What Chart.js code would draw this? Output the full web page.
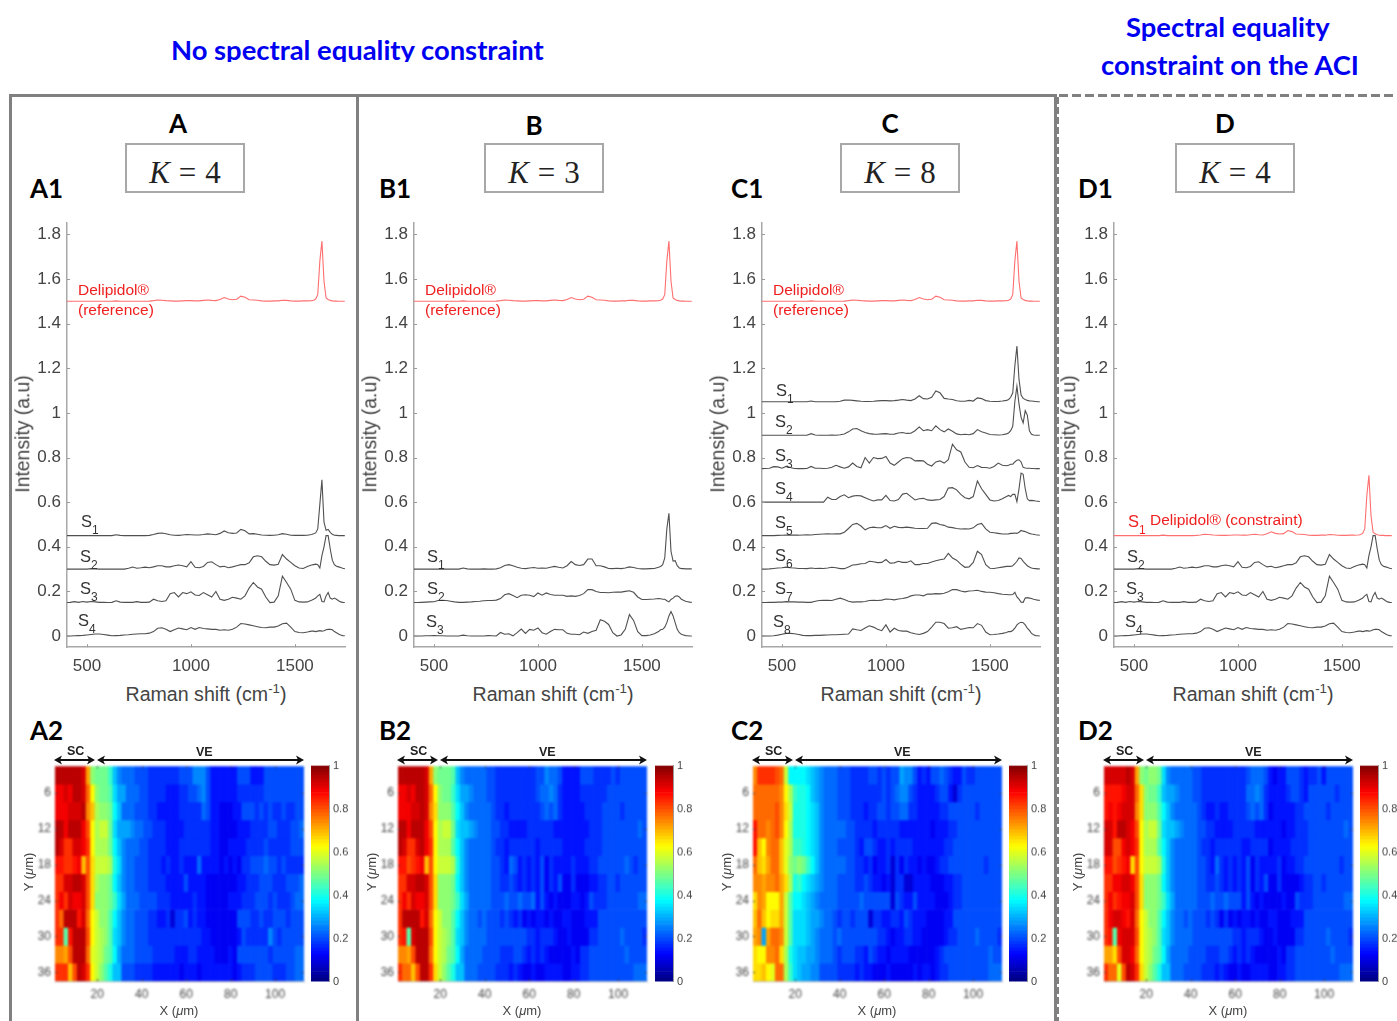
<!DOCTYPE html>
<html>
<head>
<meta charset="utf-8">
<title>Raman spectra and maps</title>
<script src="https://cdn.jsdelivr.net/npm/chart.js@4"></script>
<style>
html, body { margin: 0; padding: 0; background: #fff; }
#page { position: relative; width: 1397px; height: 1021px; overflow: hidden; background: #fff; }
#page canvas { position: absolute; filter: blur(0.45px); }
#page canvas.map { filter: blur(0.85px); }
.t { position: absolute; white-space: nowrap; font-family: "Liberation Sans", Arial, sans-serif; color: #444; line-height: 1; }
.head { font-family: Lato, sans-serif; font-weight: 700; color: #0000f0; font-size: 27.4px; }
.big { font-family: Lato, sans-serif; font-weight: 700; color: #000; font-size: 26px; }
.line { position: absolute; background: #808080; }
.kbox { position: absolute; border: 2px solid #a8a8a8; box-sizing: border-box; text-align: center; font-family: "Liberation Serif", serif; font-size: 31px; line-height: 55px; height: 50px; width: 120px; color: #222; }
sub, sup { font-size: 68%; line-height: 0; }
</style>
</head>
<body>
<div id="page"></div>
<script>
// Raman shift grid (cm-1)
const shift = [400,420,440,460,480,500,520,540,560,580,600,620,640,660,680,700,720,740,760,780,
800,820,840,860,880,900,920,940,960,980,1000,1020,1040,1060,1080,1100,1120,1140,1160,1180,
1200,1220,1240,1260,1280,1300,1320,1340,1360,1380,1400,1420,1440,1460,1480,1500,1520,1540,1560,1580,
1590,1600,1610,1620,1630,1640,1650,1660,1670,1680,1690,1700,1710,1720,1730,1740];

// Spectra, height above each baseline, in 0.01 intensity units
const delipidol = [0,0,0,0,0,0,0,0,0,0,
0,0,.2,0,0,0,0,0,0,0,
.1,.3,.6,.5,.3,.2,.1,.1,.2,.3,
.3,.2,.2,.4,.6,.4,.3,.8,1.7,1,
.7,.9,2.3,1.8,.7,.6,.5,.2,.1,.1,
.2,.2,.5,.4,.2,.1,.1,.2,.2,.3,
.5,1,3,18,27,9,1.5,.8,.4,.2,.1,.1,0,0,0,0];
const aS1 = [0,0,0,0,0,0,0,0,0,0,
0,0,.4,.1,0,0,0,0,0,0,
.1,.5,1,1.2,.8,.4,.2,.1,.3,.5,
.4,.3,.3,.5,.8,.6,.4,1,2.1,1.3,
1,1.2,2.8,2.2,.8,.9,.6,.3,.2,.1,
.2,.4,.9,.6,.2,.1,.1,.1,.2,.5,
.8,1.2,3,14,25,6,2.4,2.8,1.5,.6,.2,.1,0,0,0,0];
const aS2 = [0,0,0,0,0,0,.2,.1,0,0,
0,0,0,0,0,.4,.9,.4,.6,.9,
.6,1,1.5,1.5,1,1,1.5,1.8,1.5,1,
3.3,.8,.6,1.2,3,3.3,2,1,1.3,.6,
1,1.5,2,2,2.8,5.5,6,5.5,3.5,2,
1.8,2.2,6.5,4.5,3,1.5,.5,.3,1.2,1.8,
2,2.2,2,.5,6,10,15,15,9,4,2,1.3,1,.7,.4,.2];
const aS3 = [0,.1,.4,.1,.5,.2,.5,.3,.1,.1,
0,.1,.8,.2,.1,.1,.1,.4,.1,.1,
.2,1.5,.8,.5,.8,4,4.5,2.5,4.5,4,
4.8,3.4,3.2,4.5,3.5,2.5,5,1.5,1,1.5,
2.4,2,1.5,3,6.5,9,7,6,2.5,0,
.2,3,11.8,9,6,1,.3,.2,.3,1,
1.5,2,3,3.7,.5,.3,3,4.5,2,1.5,2,1.5,.8,.3,.1,0];
const aS4 = [0,0,.1,.2,.3,.5,.7,.9,.9,.7,
.4,.1,.2,.3,.5,.6,.8,.9,1,1,
1.3,2,3.5,3.7,3,2,2.8,3.6,3.2,2.8,
3.8,3,3.8,3.4,3.2,3,3,2.6,2.8,2.6,
3,4,5.6,5.4,5,4.6,4.2,3.8,3.7,4,
4,4.5,5.5,5.8,4,2,1.6,1.5,1.8,2.2,
2.2,2,2.2,2.4,2.2,2.4,2.8,3,3,2.8,2,1.5,.9,.5,.2,.1];
const bS1 = [0,0,0,0,0,0,0,0,0,0,
0,0,.5,.1,0,0,0,.1,0,0,
.1,.6,1.6,2,1.5,.8,.4,.2,.5,.7,
.4,.5,.4,.8,1.2,.8,.5,1.5,3.4,2,
1.6,2,4.5,4.5,1.5,1.5,1,.3,.2,.4,
.2,.5,1,.7,.3,.1,.1,.2,.3,.8,
1.2,2,5,18,25,8,3.6,3.8,1.5,.5,.2,.2,.1,.1,.1,.1];
const bS2 = [0,0,.1,.2,.3,.4,.9,1,.9,.6,
.3,.1,.1,.2,.3,.5,.6,.8,.9,.9,
1.1,1.8,3.5,4,3.2,2.2,3.3,3.5,3.3,2.7,
4.3,3.3,4.3,3.6,3.3,3.3,3.3,2.8,3,2.8,
3.2,4,5.8,5.8,5,4.5,4.5,4.4,4.6,4.7,
4.7,5,5.3,4.6,2.5,1.4,1.4,1.5,1.6,1.8,
1.7,1.5,1.5,.8,.3,1.4,2,2.8,3,2.5,1.5,1,.6,.4,.2,.1];
const bS3 = [0,0,0,.1,.1,.2,.1,.1,0,0,
0,0,.4,.1,0,0,0,0,.2,.1,
0,1.6,.8,1,.1,1.5,3.1,1.2,3,2.6,
3.6,1.5,.8,2,3,2.8,2.8,1.2,.8,.8,
.6,1.8,1.2,2,2.6,7.3,6.6,5.2,1.5,0,
.5,3,9.6,7,2,.2,.2,.5,1,2,
2.8,3,4,6,9,11,9,6,3,1.5,.8,.5,.2,.1,0,0];
const cS1 = [0,0,0,0,0,0,0,0,0,0,
0,0,.3,0,0,0,0,0,0,.2,
.7,.8,.6,.4,.2,.1,.1,.2,.4,.5,
.5,.4,.5,.7,1,.7,.5,1.2,2.7,1.4,
1.2,2,4.8,4,1.5,1.2,1,.4,.2,.2,
.6,.3,1.7,1.4,.5,.2,.1,.1,.3,.6,
1,2,4,16,25,10,3,1.5,1,.6,.4,.3,.2,.1,0,0];
const cS2 = [0,0,0,0,0,0,0,0,0,0,
0,0,.7,.1,0,0,0,.1,0,.2,
.5,1.5,2.8,3,2,1.2,.7,.5,.4,.6,
.7,.4,.5,1,1.2,.8,.9,2,3.7,2,
2.5,2,4.2,2.5,1.5,2.8,1.8,.6,.2,.4,
.2,.7,2.5,1.5,1,.3,.2,.1,.2,.6,
1,2,4,15,22,14,8,5.5,11,9,2,.4,.1,0,0,0];
const cS3 = [0,.1,.2,.9,.8,.2,1,.5,.1,0,
0,.1,1,.2,.2,.1,.2,.6,1.5,.8,
.2,.8,2.5,1,.4,5,2.5,5,4.5,4.6,
5.5,2.5,1.5,3,4.5,5,4.8,3.5,3.6,3.5,
2,1.2,3,3.5,2.5,4,11,8.5,7.5,3,
.6,.4,1.4,.6,.5,.2,1,2.5,1.5,1.3,
1.5,2,2,3,3.8,4,3,.6,.3,.2,.2,.1,.1,0,0,0];
const cS4 = [0,0,0,0,0,0,0,0,0,0,
0,0,0,0,0,0,2.2,1.2,1.2,2.5,
3.3,2,2.7,3,2.8,2,1.2,.5,1,1,
3,.7,.5,1.2,3.6,4,2.5,1,1.5,1.7,
1,.8,1,1.2,2.5,6.3,6.5,5.5,3.5,2,
1.5,2.5,9.5,6,3.5,1,.5,.7,1.5,2.5,
3,2.5,3.5,3.5,.2,6,13,12.5,6,1.5,.7,.8,.7,.5,.4,.3];
const cS5 = [0,0,0,0,.1,.2,.3,.2,.2,.2,
.3,.4,.3,.5,.6,.7,.8,.7,.8,.8,
1.5,3.2,5,5.5,4.3,2.6,3.5,3.8,3.5,3.6,
4.5,3.3,4.2,3.7,3.6,3.8,3.6,3.3,3.2,3.2,
3.3,5.5,5.7,5,4.6,3.8,3.6,3.2,3,3.1,
3,3.5,5,5.5,3,1.5,1.3,1,.7,.7,
.8,1,1,1.2,1,1.5,2.3,2,1.8,1.4,1,.7,.6,.4,.3,.2];
const cS6 = [0,0,.1,.3,.5,.6,.9,.6,.5,.3,
.3,.2,.5,.3,.4,.3,.5,.8,.6,.2,
.2,.9,1.8,2,2.4,2.5,3.5,3.3,2.9,3,
4.3,2.7,2.8,3.5,3,3,3.7,2,2,2.5,
2.5,3.2,3.7,4.2,4.5,7,5,4,2.2,.8,
1,3,8,6.5,2,.4,.3,.6,.9,1.2,
1.3,1.2,1.5,2.4,3.5,5,4.8,3.5,2.5,1.5,.9,.5,.3,.2,.1,.1];
const cS7 = [0,0,.1,.1,.2,.2,.4,.3,.3,.2,
.2,.1,.1,.6,.9,1,1,.9,1.5,2,
1.4,.6,.2,.3,.3,.5,.9,1,.9,1.1,
1.6,1.5,1.2,1.6,1.8,2.2,3,3.4,3.4,3,
3.8,3.8,4,3.9,4.2,4.8,5.8,5.8,5.2,4.8,
5.2,5.3,5.5,5,4.7,4.6,4.4,4,3.7,3.6,
3.5,3.5,3.6,4.6,2.5,1.5,.2,.1,2,2.2,2,1.8,1.5,1.3,1.1,1];
const cS8 = [0,0,0,.1,.4,.8,1.2,1.2,1,.7,
.3,.2,.2,.3,.3,.4,.5,.6,.6,.7,
.8,.9,3.2,2.8,2.5,3.6,4.6,4,3,2.4,
5,1.8,3.5,2.5,2.2,2.2,1.5,1,.7,1.2,
2,4,6.2,6.2,5.6,3.5,3.7,4.2,3,3.4,
3.8,3.7,5.6,4.8,1.8,.6,.7,.9,1.2,1.6,
2,2,2.5,3.5,5,5.8,6.2,6,5,3.5,2.5,1.2,.6,.2,.1,0];

// Spectrum baselines per panel
const aBase = [1.5, 0.45, 0.3, 0.15, 0];
const bBase = [1.5, 0.3, 0.15, 0];
const cBase = [1.5, 1.05, 0.9, 0.75, 0.6, 0.45, 0.3, 0.15, 0];
const dBase = [0.45, 0.3, 0.15, 0];
const aLines = [delipidol, aS1, aS2, aS3, aS4];
const bLines = [delipidol, bS1, bS2, bS3];
const cLines = [delipidol, cS1, cS2, cS3, cS4, cS5, cS6, cS7, cS8];
const dLines = [delipidol, aS2, aS3, aS4];

// Tick labels
const specXTicks = [500, 1000, 1500];
const specYTicks = [0, 0.2, 0.4, 0.6, 0.8, 1, 1.2, 1.4, 1.6, 1.8];
const mapXTicks = [20, 40, 60, 80, 100];
const mapYTicks = [6, 12, 18, 24, 30, 36];
const barTicks = [0, 0.2, 0.4, 0.6, 0.8, 1];

// Map axes: X every 2 um, Y every 3 um
const mapX = [2,4,6,8,10,12,14,16,18,20,22,24,26,28,30,32,34,36,38,40,42,44,46,48,50,52,54,56,58,60,62,64,66,68,70,72,74,76,78,80,82,84,86,88,90,92,94,96,98,100,102,104,106,108,110,112];
const mapY = [3,6,9,12,15,18,21,24,27,30,33,36];

// Map cells, one base-36 character per cell, 0 = 0 and z = 1
const mapA = [
"xxxxxxwpih hhfb988877 7666666677 7999755555 5777555777 777777",
"vvwvxxwrmi hhgcaa8887 7666655566 7789755555 5666666777 777777",
"vvvwwwxqoj iihdb88877 7665555566 6668755444 5577767676 676677",
"xxvxxxvsmj kkhcaaa988 7766655556 6666655444 4555666677 666778",
"xwttwwvtmj jjhdb98887 7666655566 6666655445 5556666766 666777",
"uuttuvosnk kkjec98877 7666565565 5585555454 5466777877 676666",
"ttwwxxwsnj iihdb98877 7666655557 5555444444 4556667776 667778",
"tvtwvvwsni iihfca8887 7776665555 5655444445 5566677767 666788",
"trxxxuwrmk iigdb98877 7665563667 5655444444 4777667667 776777",
"ttguxxxsmk jigcb98877 7666666666 6665544444 4576666697 677777",
"qqpsxxxrlk jhgda88877 7766666555 6655554445 4777777767 777788",
"tttosxwtmk igebb77766 6655555545 5545555555 4566677776 667788"];
const mapB = [
"xxxxxxwpih hhgb988888 7766666666 6779887555 5777666676 777777",
"vvwvxxwrmi hhfcaa9888 7766666666 6788986555 5666666777 777777",
"vvvwwxwqni iigdb98888 8766566666 6678786555 5566667777 677777",
"xxvxxxvsmj kkhcbba988 8776655556 6666655555 5556667777 777787",
"xwttwxvtmj jjgdb98888 8766566666 6566666555 5566667777 777777",
"uustuvosmk kkjeb98888 8776587565 6574655556 5556677777 787677",
"ttwwxxwsni iihdb98888 8776676565 6574657446 4445566776 777777",
"tvtwvvwsni iihfca8888 8777877877 8575454445 5457666777 777788",
"txxxxuwrmk iigdb98878 7776765645 4554544554 4455577777 777777",
"tugwxxxsmk jigcb98888 7777777776 6566654454 4446677777 877776",
"qqpsxxxrmk jhgda88887 7776667765 6565444445 4667777777 787777",
"trrosxxtnk igebb88877 7766656544 5445555445 5667777777 777888"];
const mapC = [
"qttttsrkdd ddcba98887 7766667767 677a997565 7787655766 777777",
"rrrrrrqmjf eedba98887 7766666667 6789976555 5677536777 777777",
"rrrrrsqnke eedcb98887 7766656677 6778866555 5566777777 677777",
"urrqrsqmje eedcb98888 8776666566 6665555555 4555667777 777777",
"uomqrroljf fedcb98887 7776577655 6566665555 5556677777 777777",
"ronprrolih ihfdb98888 8776656455 6364655454 4566777777 776777",
"qqpqqrpnje fdcba98887 7776676554 5366335555 4445566777 777777",
"nqpmmmpkgd dcba988887 7777877777 7376557555 5444566777 777777",
"oromnnpkgc ccbaa98876 7767773665 5665765554 4445577777 777777",
"pqaprrqkgc ccba988878 7777777766 5455665544 4445667777 877776",
"nmmqqrnjec bbaa988876 7776657655 4555544444 4567777777 777877",
"nnomlrrjfc baa9977776 6665655444 5444445455 4566777777 777888"];
const mapD = [
"wwwwwxwpih iihc988888 7766666666 6678887545 5777656675 777777",
"uuuuvwwrni hhfbaa9888 7766666666 6688986555 5677657777 776777",
"uvuvwwwqni iigdb98888 8765565566 6678786455 5556677777 677777",
"wwuxxwvsmj kkhcbba988 8776655556 6666555555 4556667777 777787",
"wwssvwvtmj jjgdb98888 8766566666 6556666455 5566667777 777777",
"uustuvnsmk kkjeb98888 8776586565 6574655556 4556677777 777677",
"ttvvwwvsni iihdb98888 8776676565 6574657446 4444566776 777777",
"tvtuvvwsni iihfca8888 8777877877 7575454444 5447666777 777788",
"tvwwvuwrmk iigdb98878 7776764645 4554544554 4455577777 777777",
"tugvwwwsmk jigcb98888 7777777776 6566654454 4446677777 877776",
"ppnswwvrmk jhgda88887 7776667765 6565444445 4667777777 787777",
"trrlsxwtnk igebb88877 7766656544 5445555445 5667777777 777888"];

const page = document.getElementById("page");

// MATLAB jet colours
function jet(v) {
    const c = x => Math.round(255 * Math.max(0, Math.min(1, x)));
    const r = c(Math.min(4 * v - 1.5, -4 * v + 4.5));
    const g = c(Math.min(4 * v - 0.5, -4 * v + 3.5));
    const b = c(Math.min(4 * v + 0.5, -4 * v + 2.5));
    return `rgb(${r},${g},${b})`;
}

function addText(html, x, y, size, extra) {
    const el = document.createElement("div");
    el.className = "t";
    el.innerHTML = html;
    el.style.left = x + "px";
    el.style.top = y + "px";
    if (size) el.style.fontSize = size + "px";
    if (extra) el.style.cssText += extra;
    page.appendChild(el);
    return el;
}

function addLine(x, y, w, h) {
    const el = document.createElement("div");
    el.className = "line";
    el.style.cssText = `left:${x}px;top:${y}px;width:${w}px;height:${h}px`;
    page.appendChild(el);
}

function addCanvas(x, y, w, h) {
    const cv = document.createElement("canvas");
    cv.width = w;
    cv.height = h;
    cv.style.left = x + "px";
    cv.style.top = y + "px";
    cv.style.width = w + "px";
    cv.style.height = h + "px";
    page.appendChild(cv);
    return cv.getContext("2d");
}

// Chart.js adds room for the edge labels, so stretch and move the canvas until the plot sits on top..bottom
function pinPlot(chart, top, bottom) {
    const extraTop = chart.chartArea.top;
    const extraBottom = chart.height - chart.chartArea.bottom;
    chart.resize(chart.width, bottom - top + extraTop + extraBottom);
    chart.canvas.style.top = (top - chart.chartArea.top) + "px";
}

// Small ticks pointing into the plot, as MATLAB draws them
const inwardTicks = {
    id: "inwardTicks",
    afterDraw(chart, args, opts) {
        const { ctx, chartArea: a, scales } = chart;
        ctx.save();
        ctx.strokeStyle = opts.color;
        ctx.lineWidth = 1;
        ctx.beginPath();
        scales.x.ticks.forEach(t => {
            const px = Math.round(scales.x.getPixelForValue(t.value)) + 0.5;
            ctx.moveTo(px, a.bottom);
            ctx.lineTo(px, a.bottom - opts.len);
            if (opts.box) { ctx.moveTo(px, a.top); ctx.lineTo(px, a.top + opts.len); }
        });
        scales.y.ticks.forEach(t => {
            const py = Math.round(scales.y.getPixelForValue(t.value)) + 0.5;
            ctx.moveTo(a.left, py);
            ctx.lineTo(a.left + opts.len, py);
            if (opts.box) { ctx.moveTo(a.right, py); ctx.lineTo(a.right - opts.len, py); }
        });
        ctx.stroke();
        ctx.restore();
    }
};

const tickFont = { family: "'Liberation Sans', Arial, sans-serif" };

function fixedTicks(values) {
    return scale => { scale.ticks = values.map(v => ({ value: v })); };
}

// Spectrum panel: plot spans left..left+278 and y 223..647
function drawSpectra(left, lines, bases) {
    const ctx = addCanvas(left - 45, 215, 329, 462);
    const chart = new Chart(ctx, {
        type: "line",
        data: {
            datasets: lines.map((h, s) => ({
                data: shift.map((x, i) => ({ x, y: bases[s] + h[i] / 100 })),
                borderColor: s === 0 ? "#ff6f6f" : "#505050",
                borderWidth: 1.1,
                pointRadius: 0,
                tension: 0
            }))
        },
        options: {
            responsive: false,
            maintainAspectRatio: false,
            animation: false,
            layout: { padding: { top: 0, right: 6 } },
            plugins: { legend: { display: false }, tooltip: { enabled: false }, inwardTicks: { len: 3, color: "#9a9a9a" } },
            scales: {
                x: {
                    type: "linear", min: 404, max: 1741,
                    grid: { display: false, drawTicks: false },
                    border: { color: "#a8a8a8", width: 1.5 },
                    afterBuildTicks: fixedTicks(specXTicks),
                    afterFit: s => { s.height = 30; },
                    ticks: { autoSkip: false, maxRotation: 0, padding: 9, color: "#444", font: { ...tickFont, size: 17 }, callback: v => String(v) }
                },
                y: {
                    min: -0.05, max: 1.85,
                    grid: { display: false, drawTicks: false },
                    border: { color: "#a8a8a8", width: 1.5 },
                    afterBuildTicks: fixedTicks(specYTicks),
                    afterFit: s => { s.width = 45; },
                    ticks: { autoSkip: false, padding: 6, color: "#444", font: { ...tickFont, size: 17 }, callback: v => String(v) }
                }
            }
        },
        plugins: [inwardTicks]
    });
    pinPlot(chart, 223, 647);
}

// Map panel built from floating bars: plot spans left..left+249 and y 766..981
function drawMap(left, rows) {
    const ctx = addCanvas(left - 30, 762, 283, 241);
    ctx.canvas.className = "map";
    const cells = rows.map(r => r.replace(/ /g, ""));
    const chart = new Chart(ctx, {
        type: "bar",
        data: {
            datasets: mapY.map((y, r) => ({
                data: mapX.map(x => ({ x, y: [y - 1.5, y + 1.5] })),
                backgroundColor: mapX.map((x, c) => jet(parseInt(cells[r][c], 36) / 35)),
                borderWidth: 0,
                grouped: false,
                barPercentage: 1,
                categoryPercentage: 1
            }))
        },
        options: {
            responsive: false,
            maintainAspectRatio: false,
            animation: false,
            layout: { padding: { top: 0, right: 4 } },
            plugins: { legend: { display: false }, tooltip: { enabled: false }, inwardTicks: { len: 2, box: true, color: "#333" } },
            scales: {
                x: {
                    type: "linear", min: 1, max: 113, offset: false,
                    grid: { display: false, drawTicks: false },
                    border: { color: "#b0b0b0" },
                    afterBuildTicks: fixedTicks(mapXTicks),
                    afterFit: s => { s.height = 22; },
                    ticks: { autoSkip: false, maxRotation: 0, padding: 6, color: "#444", font: { ...tickFont, size: 12 }, callback: v => String(v) }
                },
                y: {
                    reverse: true, min: 1.5, max: 37.5,
                    grid: { display: false, drawTicks: false },
                    border: { color: "#b0b0b0" },
                    afterBuildTicks: fixedTicks(mapYTicks),
                    afterFit: s => { s.width = 30; },
                    ticks: { autoSkip: false, padding: 4, color: "#444", font: { ...tickFont, size: 12 }, callback: v => String(v) }
                }
            }
        },
        plugins: [inwardTicks]
    });
    pinPlot(chart, 766, 981);
}

// Colour bar next to each map
function drawColorBar(left) {
    const levels = [];
    for (let i = 0; i < 64; i++) levels.push(i / 64);
    const ctx = addCanvas(left, 760, 48, 227);
    const chart = new Chart(ctx, {
        type: "bar",
        data: {
            labels: ["c"],
            datasets: levels.map(v => ({
                data: [[v, v + 1 / 64]],
                backgroundColor: jet(v + 1 / 128),
                borderWidth: 0,
                grouped: false,
                barPercentage: 1,
                categoryPercentage: 1
            }))
        },
        options: {
            responsive: false,
            maintainAspectRatio: false,
            animation: false,
            layout: { padding: 0 },
            plugins: { legend: { display: false }, tooltip: { enabled: false } },
            scales: {
                x: { display: false },
                y: {
                    position: "right", min: 0, max: 1,
                    grid: { display: false, drawTicks: false },
                    border: { color: "#999" },
                    afterBuildTicks: fixedTicks(barTicks),
                    afterFit: s => { s.width = 30; },
                    ticks: { autoSkip: false, padding: 4, color: "#444", font: { ...tickFont, size: 11 }, callback: v => String(v) }
                }
            }
        }
    });
    pinPlot(chart, 766, 981);
}

// Double headed arrow above a map
function addArrow(x1, x2, y) {
    const ns = "http://www.w3.org/2000/svg";
    const svg = document.createElementNS(ns, "svg");
    svg.setAttribute("width", x2 - x1);
    svg.setAttribute("height", 10);
    svg.style.cssText = `position:absolute;left:${x1}px;top:${y - 5}px`;
    const w = x2 - x1;
    svg.innerHTML = `<line x1="2" y1="5" x2="${w - 2}" y2="5" stroke="#111" stroke-width="2"/>` +
        `<polygon points="0,5 8,0.5 6,5 8,9.5" fill="#111"/><polygon points="${w},5 ${w - 8},0.5 ${w - 6},5 ${w - 8},9.5" fill="#111"/>`;
    page.appendChild(svg);
}

function sLabel(n, x, y, color) {
    const st = color ? `color:${color};` : "color:#333;";
    addText(`S<sub style="font-size:12px;position:relative;top:3px">${n}</sub>`, x, y, 16.5, st);
}

// Frames
addLine(9, 94, 1047, 3);
addLine(9, 94, 3, 927);
addLine(355.5, 94, 3, 927);
addLine(1053.5, 94, 3, 927);
for (let x = 1059; x < 1397; x += 13) addLine(x, 94, 9, 2.5);
for (let y = 97; y < 1021; y += 10) addLine(1057, y, 2, 6.5);

// Headings, the first one is cut off at the bottom in the original
const head1 = addText("No spectral equality constraint", 171, 34, 0, "height:28px;overflow:hidden;line-height:32px");
head1.classList.add("head");
addText("Spectral equality", 1126, 11, 0, "line-height:32px").classList.add("head");
addText("constraint on the ACI", 1101, 49, 0, "line-height:32px").classList.add("head");

// Panels: letter, K value and all x positions
const panelNames = ["A", "B", "C", "D"];
const kValues = [4, 3, 8, 4];
const specLeft = [67, 414, 762, 1114];
const mapLeft = [55, 398, 753, 1104];
const barLeft = [311, 655, 1009, 1360];
const letterX = [178, 534, 890, 1225];
const letterY = [110, 112, 110, 110];
const kBoxX = [125, 484, 840, 1175];
const tagX = [30, 379, 731, 1078];
const xTitleX = [206, 553, 901, 1253];
const yTitleX = [23, 370, 718, 1069];
const specLines = [aLines, bLines, cLines, dLines];
const specBases = [aBase, bBase, cBase, dBase];
const mapRows = [mapA, mapB, mapC, mapD];

panelNames.forEach((name, p) => {
    const letter = addText(name, letterX[p], letterY[p], 0, "transform:translateX(-50%)");
    letter.classList.add("big");
    const box = document.createElement("div");
    box.className = "kbox";
    box.style.left = kBoxX[p] + "px";
    box.style.top = "143px";
    box.innerHTML = `<i>K</i><span style="margin:0 9px">=</span>${kValues[p]}`;
    page.appendChild(box);
    addText(name + "1", tagX[p], 175, 0).classList.add("big");
    addText(name + "2", tagX[p], 717, 0).classList.add("big");

    drawSpectra(specLeft[p], specLines[p], specBases[p]);
    addText("Raman shift (cm<sup>-1</sup>)", xTitleX[p], 685, 19.6, "transform:translateX(-50%)");
    addText("Intensity (a.u)", yTitleX[p], 434, 19.4, "transform:translate(-50%,-50%) rotate(-90deg)");

    drawMap(mapLeft[p], mapRows[p]);
    drawColorBar(barLeft[p]);
    addText("X (<i>&mu;</i>m)", mapLeft[p] + 124, 1004, 13, "transform:translateX(-50%)");
    addText("Y (<i>&mu;</i>m)", mapLeft[p] - 27, 872, 13, "transform:translate(-50%,-50%) rotate(-90deg)");
    addArrow(mapLeft[p] - 1, mapLeft[p] + 40, 760);
    addArrow(mapLeft[p] + 42, mapLeft[p] + 249, 760);
    addText("SC", mapLeft[p] + 12, 745, 12.5, "font-weight:700;color:#222");
    addText("VE", mapLeft[p] + 141, 746, 12.5, "font-weight:700;color:#222");
});

// Delipidol labels
[78, 425, 773].forEach(x => {
    addText("Delipidol&reg;", x, 282, 15.5, "color:#f02020");
    addText("(reference)", x, 302, 15.5, "color:#f02020");
});
sLabel(1, 1128, 513, "#f02020");
addText("Delipidol&reg; (constraint)", 1150, 512, 15.5, "color:#f02020");

// Component labels
const compA = [[81, 513], [80, 548], [80, 580], [78, 612]];
const compB = [[427, 548], [427, 580], [426, 613]];
const compC = [[776, 382], [775, 413], [775, 447], [775, 480], [775, 514], [775, 547], [775, 580], [773, 613]];
const compD = [[1127, 548], [1126, 580], [1125, 613]];
compA.forEach((c, i) => sLabel(i + 1, c[0], c[1]));
compB.forEach((c, i) => sLabel(i + 1, c[0], c[1]));
compC.forEach((c, i) => sLabel(i + 1, c[0], c[1]));
compD.forEach((c, i) => sLabel(i + 2, c[0], c[1]));
</script>
</body>
</html>
